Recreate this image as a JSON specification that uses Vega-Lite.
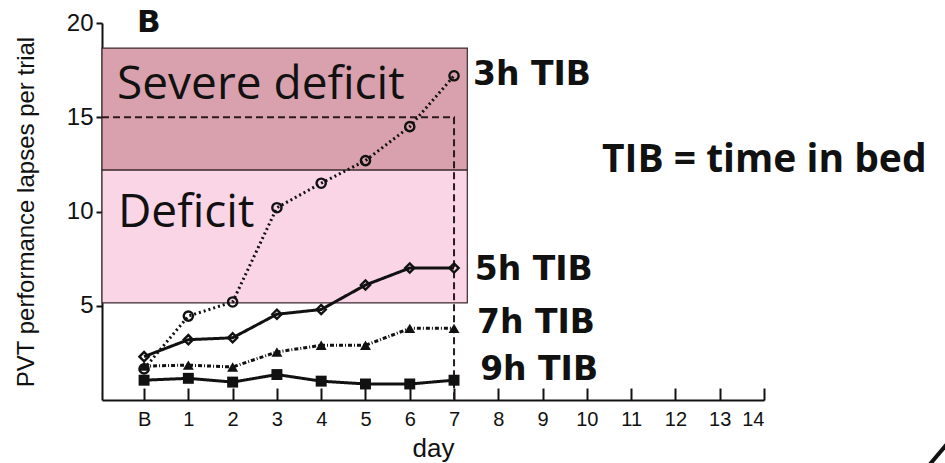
{
  "$schema": "https://vega.github.io/schema/vega-lite/v6.json",
  "width": 662,
  "height": 377,
  "autosize": {"type": "none"},
  "padding": {"left": 102, "top": 23, "right": 181, "bottom": 63},
  "background": "#ffffff",
  "config": {
    "view": {"stroke": null},
    "axis": {
      "grid": false,
      "domainColor": "#111111",
      "domainWidth": 2,
      "tickColor": "#111111",
      "tickWidth": 2,
      "labelColor": "#111111",
      "labelFont": "Liberation Sans",
      "titleFont": "Liberation Sans",
      "titleColor": "#111111",
      "titleFontWeight": "normal"
    }
  },
  "datasets": {
    "zones": [
      {"zone": "severe", "x": -0.95, "x2": 7.3, "y": 12.2, "y2": 18.67},
      {"zone": "deficit", "x": -0.95, "x2": 7.3, "y": 5.15, "y2": 12.2}
    ],
    "ref": [
      {"x": -0.95, "y": 15, "o": 1},
      {"x": 7, "y": 15, "o": 2},
      {"x": 7, "y": 0, "o": 3}
    ],
    "series": [
      {"series": "3h TIB", "x": 0, "y": 1.65},
      {"series": "3h TIB", "x": 1, "y": 4.45},
      {"series": "3h TIB", "x": 2, "y": 5.2},
      {"series": "3h TIB", "x": 3, "y": 10.2},
      {"series": "3h TIB", "x": 4, "y": 11.5},
      {"series": "3h TIB", "x": 5, "y": 12.7},
      {"series": "3h TIB", "x": 6, "y": 14.5},
      {"series": "3h TIB", "x": 7, "y": 17.2},
      {"series": "5h TIB", "x": 0, "y": 2.3},
      {"series": "5h TIB", "x": 1, "y": 3.2},
      {"series": "5h TIB", "x": 2, "y": 3.3},
      {"series": "5h TIB", "x": 3, "y": 4.55},
      {"series": "5h TIB", "x": 4, "y": 4.8},
      {"series": "5h TIB", "x": 5, "y": 6.1},
      {"series": "5h TIB", "x": 6, "y": 7.0},
      {"series": "5h TIB", "x": 7, "y": 7.0},
      {"series": "7h TIB", "x": 0, "y": 1.8},
      {"series": "7h TIB", "x": 1, "y": 1.85},
      {"series": "7h TIB", "x": 2, "y": 1.75},
      {"series": "7h TIB", "x": 3, "y": 2.55},
      {"series": "7h TIB", "x": 4, "y": 2.9},
      {"series": "7h TIB", "x": 5, "y": 2.9},
      {"series": "7h TIB", "x": 6, "y": 3.8},
      {"series": "7h TIB", "x": 7, "y": 3.8},
      {"series": "9h TIB", "x": 0, "y": 1.05},
      {"series": "9h TIB", "x": 1, "y": 1.15},
      {"series": "9h TIB", "x": 2, "y": 0.95},
      {"series": "9h TIB", "x": 3, "y": 1.35},
      {"series": "9h TIB", "x": 4, "y": 1.0},
      {"series": "9h TIB", "x": 5, "y": 0.85},
      {"series": "9h TIB", "x": 6, "y": 0.85},
      {"series": "9h TIB", "x": 7, "y": 1.05}
    ],
    "zoneLabels": [
      {"text": "Severe deficit", "x": -0.61, "y": 15.97},
      {"text": "Deficit", "x": -0.59, "y": 9.18}
    ],
    "note": [
      {"text": "TIB = time in bed", "x": 10.34, "y": 12.1}
    ],
    "seriesLabels": [
      {"text": "3h TIB", "x": 7.43, "y": 16.71},
      {"text": "5h TIB", "x": 7.47, "y": 6.37},
      {"text": "7h TIB", "x": 7.52, "y": 3.55},
      {"text": "9h TIB", "x": 7.59, "y": 1.06}
    ],
    "panel": [
      {"text": "B", "x": -0.16, "y": 19.5}
    ],
    "slash": [
      {"x": 17.75, "y": -3.4, "x2": 18.25, "y2": -2.0}
    ]
  },
  "encoding": {
    "x": {
      "field": "x",
      "type": "quantitative",
      "scale": {"domain": [-0.95, 14], "nice": false, "zero": false},
      "axis": {
        "title": "day",
        "titleFontSize": 26,
        "titlePadding": 6,
        "values": [0, 1, 2, 3, 4, 5, 6, 7, 8, 9, 10, 11, 12, 13, 14],
        "labelExpr": "datum.value == 0 ? 'B' : datum.label",
        "labelFontSize": 20,
        "tickSize": -12,
        "labelPadding": 21
      }
    },
    "y": {
      "field": "y",
      "type": "quantitative",
      "scale": {"domain": [0, 20], "nice": false},
      "axis": {
        "title": "PVT performance lapses per trial",
        "titleFontSize": 24,
        "titlePadding": 28,
        "values": [5, 10, 15, 20],
        "labelFontSize": 24,
        "tickSize": 6,
        "labelPadding": 3
      }
    }
  },
  "layer": [
    {
      "data": {"name": "zones"},
      "mark": {"type": "rect", "stroke": "#3b2a2e", "strokeWidth": 1.2},
      "encoding": {
        "x2": {"field": "x2"},
        "y2": {"field": "y2"},
        "fill": {
          "field": "zone",
          "type": "nominal",
          "scale": {"domain": ["severe", "deficit"], "range": ["#d9a1ad", "#f9d5e6"]},
          "legend": null
        }
      }
    },
    {
      "data": {"name": "zoneLabels"},
      "mark": {"type": "text", "font": "Open Sans", "fontSize": 46, "align": "left", "baseline": "alphabetic", "color": "#111111"},
      "encoding": {"text": {"field": "text"}}
    },
    {
      "data": {"name": "ref"},
      "mark": {"type": "line", "color": "#2a1a1e", "strokeWidth": 2, "strokeDash": [7, 4]},
      "encoding": {"order": {"field": "o"}}
    },
    {
      "data": {"name": "series"},
      "mark": {"type": "line", "color": "#111111", "strokeWidth": 3},
      "encoding": {
        "detail": {"field": "series"},
        "strokeDash": {
          "field": "series",
          "type": "nominal",
          "scale": {"domain": ["3h TIB", "5h TIB", "7h TIB", "9h TIB"], "range": [[2, 3], [1, 0], [4, 2, 1, 2], [1, 0]]},
          "legend": null
        }
      }
    },
    {
      "data": {"name": "series"},
      "transform": [{"filter": "datum.series == '3h TIB' || datum.series == '5h TIB'"}],
      "mark": {"type": "point", "filled": false, "color": "#111111", "strokeWidth": 2.4, "size": 85, "opacity": 1},
      "encoding": {
        "shape": {
          "field": "series",
          "type": "nominal",
          "scale": {"domain": ["3h TIB", "5h TIB", "7h TIB", "9h TIB"], "range": ["circle", "diamond", "triangle-up", "square"]},
          "legend": null
        }
      }
    },
    {
      "data": {"name": "series"},
      "transform": [{"filter": "datum.series == '7h TIB' || datum.series == '9h TIB'"}],
      "mark": {"type": "point", "filled": true, "color": "#111111", "size": 120, "opacity": 1},
      "encoding": {
        "shape": {
          "field": "series",
          "type": "nominal",
          "scale": {"domain": ["3h TIB", "5h TIB", "7h TIB", "9h TIB"], "range": ["circle", "diamond", "triangle-up", "square"]},
          "legend": null
        }
      }
    },
    {
      "data": {"name": "seriesLabels"},
      "mark": {"type": "text", "font": "DejaVu Sans", "fontWeight": "bold", "fontSize": 33, "align": "left", "baseline": "alphabetic", "color": "#111111"},
      "encoding": {"text": {"field": "text"}}
    },
    {
      "data": {"name": "note"},
      "mark": {"type": "text", "font": "Open Sans", "fontWeight": "bold", "fontSize": 39, "align": "left", "baseline": "alphabetic", "color": "#111111"},
      "encoding": {"text": {"field": "text"}}
    },
    {
      "data": {"name": "panel"},
      "mark": {"type": "text", "font": "DejaVu Sans", "fontWeight": "bold", "fontSize": 31, "align": "left", "baseline": "alphabetic", "color": "#111111"},
      "encoding": {"text": {"field": "text"}}
    },
    {
      "data": {"name": "slash"},
      "mark": {"type": "rule", "color": "#111111", "strokeWidth": 4},
      "encoding": {"x2": {"field": "x2"}, "y2": {"field": "y2"}}
    }
  ]
}
